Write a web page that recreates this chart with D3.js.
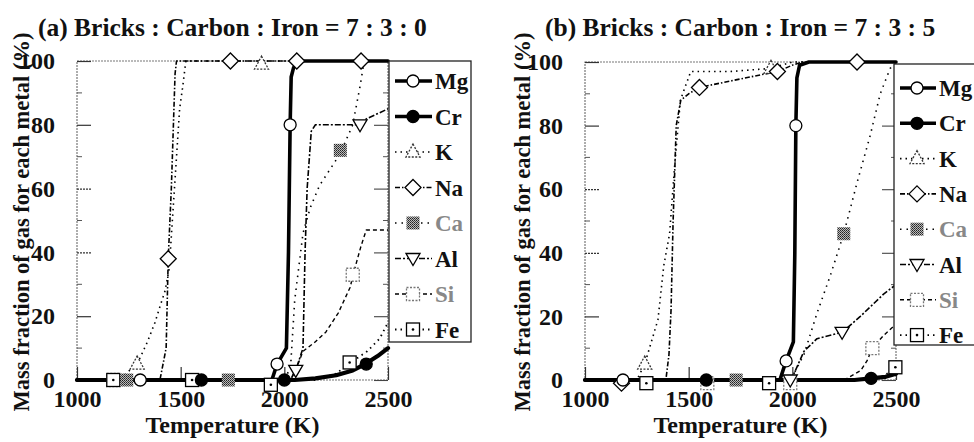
<!DOCTYPE html>
<html><head><meta charset="utf-8">
<script src="https://d3js.org/d3.v7.min.js"></script>
<style>body{margin:0;background:#fff}svg{display:block}
svg text{font-family:"Liberation Serif","Tinos","Times New Roman","Times","Nimbus Roman","FreeSerif","Noto Serif","DejaVu Serif",serif !important;font-weight:bold}</style>
</head><body>
<svg id="c" width="974" height="442"></svg>
<script>
// ---------- data ----------
const tempTicks = [1000, 1500, 2000, 2500];
const valueTicks = [0, 20, 40, 60, 80, 100];
const metals = ["Mg", "Cr", "K", "Na", "Ca", "Al", "Si", "Fe"];
const titleA = "(a) Bricks : Carbon : Iron = 7 : 3 : 0";
const titleB = "(b) Bricks : Carbon : Iron = 7 : 3 : 5";
const xTitle = "Temperature (K)";
const yTitle = "Mass fraction of gas for each metal (%)";

// panel (a)
const a_Mg = [[1000,0],[1940,0],[1965,5],[2010,10],[2020,40],[2028,80],[2033,95],[2045,98],[2090,100],[2500,100]];
const a_Mg_marks = [[1305,0],[1965,5],[2028,80]];
const a_Cr = [[1000,0],[2050,0],[2150,0.5],[2250,1.5],[2330,3],[2390,5],[2450,7.5],[2500,10]];
const a_Cr_marks = [[1600,0],[2000,0],[2395,5]];
const a_K = [[1000,0],[1200,0],[1290,5],[1340,12],[1376,18],[1400,23],[1425,28],[1445,35],[1470,60],[1495,85],[1510,92],[1525,100],[2500,100]];
const a_K_marks = [[1290,5],[1890,99]];
const a_Na = [[1000,0],[1400,0],[1430,10],[1440,38],[1455,60],[1465,80],[1473,96],[1480,100],[2500,100]];
const a_Na_marks = [[1440,38],[1740,100],[2060,100],[2370,100]];
const a_Ca = [[1000,0],[2000,0],[2030,4],[2050,25],[2090,46],[2125,54],[2170,61],[2270,71],[2330,80],[2365,92],[2385,100],[2500,100]];
const a_Ca_marks = [[1240,0],[1730,0],[2270,72]];
const a_Al = [[1000,0],[2030,0],[2060,4],[2090,10],[2100,40],[2110,60],[2130,78],[2150,80],[2350,80],[2400,82],[2500,85]];
const a_Al_marks = [[2055,3],[2365,80]];
const a_Si = [[1000,0],[2030,0],[2060,4],[2090,9],[2150,12],[2200,15],[2260,21],[2317,29],[2340,35],[2370,42],[2395,47],[2500,47]];
const a_Si_marks = [[1175,0],[2330,33]];
const a_Fe = [[1000,0],[2150,0],[2250,2],[2310,5],[2400,9],[2460,13],[2500,18]];
const a_Fe_marks = [[1175,0],[1555,0],[1935,-1.5],[2315,5.5]];

// panel (b)
const b_Mg = [[1000,0],[1940,0],[1970,6],[2005,12],[2012,40],[2017,80],[2022,95],[2035,99],[2080,100],[2500,100]];
const b_Mg_marks = [[1183,0],[1970,6],[2017,80]];
const b_Cr = [[1000,0],[2300,0],[2378,0.5],[2450,1],[2500,2]];
const b_Cr_marks = [[1585,0],[2380,0.5]];
const b_K = [[1000,0],[1250,0],[1288,5],[1352,19],[1380,36],[1408,46],[1432,67],[1460,88],[1510,97],[1700,97],[1897,98],[2000,100],[2500,100]];
const b_K_marks = [[1288,5],[1897,98]];
const b_Na = [[1000,0],[1390,0],[1405,8],[1415,22],[1425,50],[1440,80],[1462,88],[1500,90],[1552,92],[1700,94],[1850,96],[1930,97],[2000,99],[2050,100],[2500,100]];
const b_Na_marks = [[1176,-1],[1552,92],[1928,97],[2312,100]];
const b_Ca = [[1000,0],[1990,0],[2008,2],[2056,8],[2119,21],[2184,33],[2248,46],[2312,62],[2376,77],[2424,90],[2472,98],[2500,100]];
const b_Ca_marks = [[1729,0],[2248,46]];
const b_Al = [[1000,0],[1990,0],[2008,2],[2056,9],[2119,13],[2240,15],[2328,20],[2440,27],[2500,30]];
const b_Al_marks = [[1990,0],[2240,15]];
const b_Si = [[1000,0],[2250,0],[2330,3],[2360,6],[2386,10],[2440,14],[2490,17]];
const b_Si_marks = [[1590,-1],[1990,-1],[2386,10]];
const b_Fe = [[1000,0],[2350,0],[2430,1],[2470,2.5],[2497,4]];
const b_Fe_marks = [[1296,-1],[1888,-1],[2497,4]];

// ---------- styles ----------
const styles = {
  Mg: {dash: null, w: 3.6, shape: "circle", fill: "#fff", mstroke: "#000", mdash: null},
  Cr: {dash: null, w: 4.2, shape: "circle", fill: "#000", mstroke: "#000", mdash: null},
  K:  {dash: "1.5,4", w: 1.6, shape: "triangle", fill: "#fff", mstroke: "#333", mdash: "2,1.5"},
  Na: {dash: "5,2,1.5,2", w: 1.6, shape: "diamond", fill: "#fff", mstroke: "#000", mdash: null},
  Ca: {dash: "1.5,5", w: 1.6, shape: "square", fill: "url(#chk)", mstroke: "none", mdash: null},
  Al: {dash: "6,2,2,2", w: 1.6, shape: "triangleDown", fill: "#fff", mstroke: "#000", mdash: null},
  Si: {dash: "4,3", w: 1.4, shape: "square", fill: "#fff", mstroke: "#777", mdash: "2,1.5"},
  Fe: {dash: "1.5,4", w: 1.8, shape: "squareDot", fill: "#fff", mstroke: "#000", mdash: null}
};

const svg = d3.select("#c");
const defs = svg.append("defs");
const pat = defs.append("pattern").attr("id", "chk").attr("width", 2).attr("height", 2).attr("patternUnits", "userSpaceOnUse");
pat.append("rect").attr("width", 2).attr("height", 2).attr("fill", "#bbb");
pat.append("rect").attr("width", 1).attr("height", 1).attr("fill", "#222");
pat.append("rect").attr("x", 1).attr("y", 1).attr("width", 1).attr("height", 1).attr("fill", "#444");

function drawMarker(g, shape, cx, cy, st) {
  let el;
  if (shape === "circle") {
    el = g.append("circle").attr("cx", cx).attr("cy", cy).attr("r", 6);
  } else if (shape === "triangle") {
    el = g.append("path").attr("d", `M${cx},${cy-8}L${cx+7},${cy+5}L${cx-7},${cy+5}Z`);
  } else if (shape === "triangleDown") {
    el = g.append("path").attr("d", `M${cx-7},${cy-5}L${cx+7},${cy-5}L${cx},${cy+7}Z`);
  } else if (shape === "diamond") {
    el = g.append("path").attr("d", `M${cx},${cy-8}L${cx+8},${cy}L${cx},${cy+8}L${cx-8},${cy}Z`);
  } else {
    el = g.append("rect").attr("x", cx-6.5).attr("y", cy-6.5).attr("width", 13).attr("height", 13);
  }
  el.attr("fill", st.fill).attr("stroke", st.mstroke).attr("stroke-width", 1.3);
  if (st.mdash) el.attr("stroke-dasharray", st.mdash);
  if (shape === "squareDot") {
    g.append("circle").attr("cx", cx).attr("cy", cy).attr("r", 1.3).attr("fill", "#000");
  }
}

const panelA = {title: titleA, data: {Mg:[a_Mg,a_Mg_marks],Cr:[a_Cr,a_Cr_marks],K:[a_K,a_K_marks],Na:[a_Na,a_Na_marks],Ca:[a_Ca,a_Ca_marks],Al:[a_Al,a_Al_marks],Si:[a_Si,a_Si_marks],Fe:[a_Fe,a_Fe_marks]},
  x0: 77, x1: 388, yT: 61, yB: 380, titleX: 38, yLabX: 22,
  leg: {x: 389, y: 61, w: 82, h: 281, first: 81, step: 35.5, mx: 413, tx: 435}};
const panelB = {title: titleB, data: {Mg:[b_Mg,b_Mg_marks],Cr:[b_Cr,b_Cr_marks],K:[b_K,b_K_marks],Na:[b_Na,b_Na_marks],Ca:[b_Ca,b_Ca_marks],Al:[b_Al,b_Al_marks],Si:[b_Si,b_Si_marks],Fe:[b_Fe,b_Fe_marks]},
  x0: 585, x1: 896, yT: 62, yB: 380, titleX: 545, yLabX: 523,
  leg: {x: 894, y: 64, w: 90, h: 281, first: 88, step: 35.3, mx: 917, tx: 939}};

function drawPanel(p) {
  const x = d3.scaleLinear().domain([1000, 2500]).range([p.x0, p.x1]);
  const y = d3.scaleLinear().domain([0, 100]).range([p.yB, p.yT]);
  const g = svg.append("g");

  g.append("rect").attr("x", p.x0).attr("y", p.yT).attr("width", p.x1 - p.x0).attr("height", p.yB - p.yT)
    .attr("fill", "none").attr("stroke", "#777").attr("stroke-width", 1.2).attr("stroke-dasharray", "2,1");

  const yAx = d3.axisLeft(y).tickValues(valueTicks).tickSize(-14).tickPadding(22).tickFormat(d3.format("d"));
  const ya = g.append("g").attr("transform", `translate(${p.x0},0)`).call(yAx);
  ya.attr("font-family", null);
  ya.select(".domain").remove();
  ya.selectAll(".tick line").attr("stroke", "#333").attr("stroke-width", 1.2)
    .attr("stroke-dasharray", (d) => (d === 40 || d === 60) ? "2,1" : null);
  ya.selectAll(".tick text").attr("font-size", 24).attr("fill", "#111");
  const minor = d3.range(10, 100, 20);
  g.append("g").selectAll("line").data(minor).join("line")
    .attr("x1", p.x0).attr("x2", p.x0 + 5).attr("y1", d => y(d)).attr("y2", d => y(d))
    .attr("stroke", "#555").attr("stroke-width", 1);
  const yR = d3.axisRight(y).tickValues(valueTicks).tickSize(-14).tickFormat("");
  const yr = g.append("g").attr("transform", `translate(${p.x1},0)`).call(yR);
  yr.select(".domain").remove();
  yr.selectAll(".tick line").attr("stroke", "#444").attr("stroke-width", 1.1);
  g.append("g").selectAll("line").data(minor).join("line")
    .attr("x1", p.x1).attr("x2", p.x1 - 5).attr("y1", d => y(d)).attr("y2", d => y(d))
    .attr("stroke", "#555").attr("stroke-width", 1);

  const xAx = d3.axisBottom(x).tickValues(tempTicks).tickSize(-13).tickPadding(10).tickFormat(d3.format("d"));
  const xa = g.append("g").attr("transform", `translate(0,${p.yB})`).call(xAx);
  xa.attr("font-family", null);
  xa.select(".domain").remove();
  xa.selectAll(".tick line").attr("stroke", "#333").attr("stroke-width", 1.2);
  xa.selectAll(".tick text").attr("font-size", 24).attr("fill", "#111");

  const line = d3.line().x(d => x(d[0])).y(d => y(d[1]));
  const order = ["Si", "Fe", "Al", "Ca", "K", "Na", "Cr", "Mg"];
  order.forEach(m => {
    const st = styles[m];
    const pth = g.append("path").datum(p.data[m][0]).attr("d", line)
      .attr("fill", "none").attr("stroke", "#000").attr("stroke-width", st.w)
      .attr("stroke-linejoin", "round").attr("stroke-linecap", st.dash ? "butt" : "round");
    if (st.dash) pth.attr("stroke-dasharray", st.dash);
  });
  order.forEach(m => {
    const st = styles[m];
    const mg = g.append("g");
    p.data[m][1].forEach(d => drawMarker(mg, st.shape, x(d[0]), y(d[1]), st));
  });

  const L = p.leg;
  const lg = svg.append("g");
  lg.append("rect").attr("x", L.x).attr("y", L.y).attr("width", L.w).attr("height", L.h)
    .attr("fill", "#fff").attr("stroke", "#222").attr("stroke-width", 1.3);
  metals.forEach((m, i) => {
    const st = styles[m];
    const cy = L.first + i * L.step;
    const ln = lg.append("line").attr("x1", L.x + 6).attr("x2", L.tx - 3).attr("y1", cy).attr("y2", cy)
      .attr("stroke", "#000").attr("stroke-width", Math.min(st.w, 3.5));
    if (st.dash) ln.attr("stroke-dasharray", st.dash);
    drawMarker(lg, st.shape, L.mx, cy, st);
    lg.append("text").attr("x", L.tx).attr("y", cy + 8).text(m)
      .attr("font-size", 23)
      .attr("fill", (m === "Ca" || m === "Si") ? "#888" : "#111");
  });

  svg.append("text").attr("x", p.titleX).attr("y", 36).text(p.title)
    .attr("font-size", 25.5).attr("fill", "#111");
  svg.append("text").attr("transform", `translate(${p.yLabX + 7},222) rotate(-90)`).attr("text-anchor", "middle")
    .text(yTitle).attr("font-size", 22.5).attr("fill", "#111");
  svg.append("text").attr("x", (p.x0 + p.x1) / 2).attr("y", 433).attr("text-anchor", "middle")
    .text(xTitle).attr("font-size", 24).attr("fill", "#111");
}

drawPanel(panelA);
drawPanel(panelB);
</script>
</body></html>
